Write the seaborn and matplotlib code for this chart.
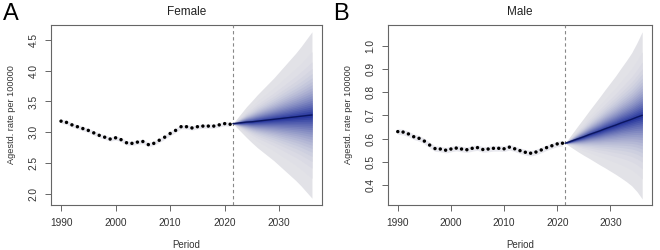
import matplotlib
matplotlib.use("Agg")
import matplotlib.pyplot as plt
import numpy as np
import pandas as pd
import seaborn as sns
from statistics import NormalDist

# ---------------- data ----------------
obs_years = list(range(1990, 2022))
female_obs = [3.18, 3.16, 3.12, 3.09, 3.06, 3.03, 2.99, 2.95, 2.92, 2.89, 2.91, 2.88,
              2.83, 2.82, 2.84, 2.85, 2.80, 2.82, 2.87, 2.92, 2.98, 3.03, 3.09, 3.09,
              3.07, 3.09, 3.10, 3.10, 3.10, 3.12, 3.14, 3.13]
male_obs = [0.630, 0.628, 0.620, 0.608, 0.601, 0.589, 0.572, 0.557, 0.555, 0.550,
            0.555, 0.559, 0.555, 0.552, 0.558, 0.561, 0.553, 0.555, 0.558, 0.558,
            0.556, 0.563, 0.556, 0.548, 0.541, 0.537, 0.542, 0.551, 0.561, 0.569,
            0.577, 0.580]

fc_years = [2021.5, 2022, 2023, 2024, 2025, 2026, 2027, 2028, 2029, 2030,
            2031, 2032, 2033, 2034, 2035, 2036]
female_fc_mean = [3.14, 3.145, 3.155, 3.165, 3.17, 3.18, 3.19, 3.20, 3.21, 3.22,
                  3.23, 3.24, 3.25, 3.26, 3.27, 3.28]
female_fc_hw = [0.0, 0.05, 0.15, 0.25, 0.34, 0.43, 0.51, 0.59, 0.67, 0.76,
                0.85, 0.94, 1.03, 1.13, 1.24, 1.35]
male_fc_mean = [0.580, 0.584, 0.592, 0.600, 0.608, 0.617, 0.625, 0.633, 0.642,
                0.650, 0.658, 0.667, 0.675, 0.683, 0.692, 0.700]
male_fc_hw = [0.0, 0.012, 0.035, 0.058, 0.080, 0.102, 0.124, 0.146, 0.168, 0.190,
              0.212, 0.236, 0.260, 0.286, 0.320, 0.360]

female_obs_band = 0.035
male_obs_band = 0.012

split_year = 2021.5
coverages = [0.99] + [round(0.95 - 0.05 * i, 2) for i in range(19)]

panels = [
    dict(letter="A", title="Female", obs=female_obs, mean=female_fc_mean,
         hw=female_fc_hw, band=female_obs_band, yticks=[2.0, 2.5, 3.0, 3.5, 4.0, 4.5],
         ylim=(1.82, 4.74)),
    dict(letter="B", title="Male", obs=male_obs, mean=male_fc_mean,
         hw=male_fc_hw, band=male_obs_band,
         yticks=[0.4, 0.5, 0.6, 0.7, 0.8, 0.9, 1.0], ylim=(0.314, 1.089)),
]

# ---------------- style ----------------
sns.set_style("white")
plt.rcParams["font.family"] = ["Liberation Sans", "DejaVu Sans"]

fig = plt.figure(figsize=(6.6, 2.5), dpi=100)
axes_pos = [[51 / 660, 0.18, 271 / 660, 0.72], [388 / 660, 0.18, 264 / 660, 0.72]]

outer_col = np.array([0.885, 0.885, 0.905])
inner_col = np.array([0.16, 0.22, 0.62])
zmax = NormalDist().inv_cdf(0.5 + coverages[0] / 2)
box_col = "#666666"
txt_col = "#333333"

for i, p in enumerate(panels):
    ax = fig.add_axes(axes_pos[i])
    obs_df = pd.DataFrame({"Period": obs_years, "rate": p["obs"]})
    fc_df = pd.DataFrame({"Period": fc_years, "mean": p["mean"], "hw": p["hw"]})

    # fitted band around observed values
    ax.fill_between(obs_df["Period"], obs_df["rate"] - p["band"],
                    obs_df["rate"] + p["band"], color="#e8e8ee", lw=0, zorder=1)

    # fan chart
    n = len(coverages)
    for k, cov in enumerate(coverages):
        z = NormalDist().inv_cdf(0.5 + cov / 2) / zmax
        t = (k / (n - 1)) ** 1.4
        col = outer_col * (1 - t) + inner_col * t
        ax.fill_between(fc_df["Period"], fc_df["mean"] - z * fc_df["hw"],
                        fc_df["mean"] + z * fc_df["hw"], color=col, lw=0, zorder=2)
    sns.lineplot(data=fc_df, x="Period", y="mean", ax=ax, color="#0b1660",
                 lw=1.0, zorder=4)

    sns.scatterplot(data=obs_df, x="Period", y="rate", ax=ax, color="black",
                    s=6, edgecolor="none", zorder=5)

    ax.axvline(split_year, color="#888888", lw=0.8, ls=(0, (3, 2.5)), zorder=3)

    ax.set_xlim(1988.16, 2037.84)
    ax.set_ylim(*p["ylim"])
    ax.set_xticks([1990, 2000, 2010, 2020, 2030])
    ax.set_yticks(p["yticks"])
    ax.set_yticklabels([f"{v:.1f}" for v in p["yticks"]], rotation=90, va="center")
    ax.tick_params(axis="both", length=4, width=0.7, color=box_col,
                   labelsize=7.3, labelcolor=txt_col, direction="out",
                   bottom=True, left=True)
    ax.tick_params(axis="x", pad=5)
    ax.tick_params(axis="y", pad=5)
    for s in ax.spines.values():
        s.set_color(box_col)
        s.set_linewidth(0.8)

    ax.set_xlabel("Period", fontsize=7, color=txt_col, va="center")
    ax.set_ylabel("Agestd. rate per 100000", fontsize=6.6, color=txt_col, va="center")
    ax.xaxis.set_label_coords(0.5, -0.222)
    ax.yaxis.set_label_coords(-0.144 if i == 0 else -0.144 * 271 / 264, 0.5)
    ax.text(0.5, 1.072, p["title"], transform=ax.transAxes, ha="center",
            va="center", fontsize=8.5, color="#222222")

    fig.text((3 if i == 0 else 333) / 660, 1 - 3 / 250, p["letter"], ha="left",
             va="top", fontsize=17, color="black")

fig.savefig("out.png", dpi=100)
